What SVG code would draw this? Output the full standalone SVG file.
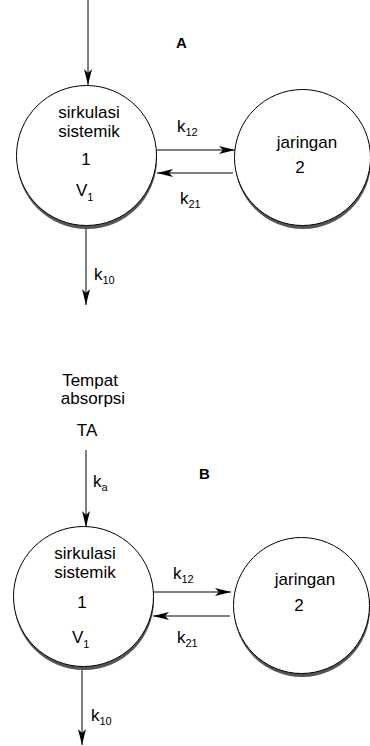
<svg xmlns="http://www.w3.org/2000/svg" width="370" height="746" viewBox="0 0 370 746">
<defs>
<marker id="ah" markerUnits="userSpaceOnUse" markerWidth="18" markerHeight="10" refX="16" refY="4" orient="auto">
<path d="M0,0 L16,4 L0,8 L4,4 z" fill="#000"/>
</marker>
</defs>
<style>
.t{font-family:"Liberation Sans",Arial,sans-serif;font-size:17px;fill:#000;text-anchor:middle}
.l{font-family:"Liberation Sans",Arial,sans-serif;font-size:17px;fill:#000}
.s{font-size:11px}
.b{font-family:"Liberation Sans",Arial,sans-serif;font-size:15px;font-weight:bold;fill:#000}
.sh{fill:#555}
.c{fill:#fff;stroke:#000;stroke-width:1}
.ln{stroke:#000;stroke-width:1;fill:none;marker-end:url(#ah)}
</style>
<rect width="370" height="746" fill="#fff"/>
<g id="connectors">
<line class="ln" x1="88" y1="0" x2="88" y2="85"/>
<line class="ln" x1="157" y1="150" x2="235" y2="150"/>
<line class="ln" x1="233" y1="173" x2="157" y2="173"/>
<line class="ln" x1="86" y1="228" x2="86" y2="305"/>
<line class="ln" x1="86" y1="450" x2="86" y2="527"/>
<line class="ln" x1="154" y1="592" x2="231" y2="592"/>
<line class="ln" x1="230" y1="616" x2="153" y2="616"/>
<line class="ln" x1="82" y1="670" x2="82" y2="745"/>
</g>
<g id="labelA"><text class="b" x="176" y="48">A</text></g>
<g id="labelB"><text class="b" x="199" y="479">B</text></g>
<g id="nodeA1">
<circle class="sh" cx="87" cy="159" r="70"/>
<circle class="c" cx="86.5" cy="155.5" r="70"/>
<text class="t" x="89" y="118">sirkulasi</text>
<text class="t" x="89" y="137">sistemik</text>
<text class="t" x="86" y="165">1</text>
<text class="l" x="76" y="196">V<tspan class="s" dy="5">1</tspan></text>
</g>
<g id="nodeA2">
<circle class="sh" cx="303" cy="161" r="68"/>
<circle class="c" cx="302.5" cy="157.5" r="68"/>
<text class="t" x="307" y="148">jaringan</text>
<text class="t" x="300" y="173">2</text>
</g>
<g id="ratesA">
<text class="l" x="177" y="132">k<tspan class="s" dy="4">12</tspan></text>
<text class="l" x="180" y="204">k<tspan class="s" dy="4">21</tspan></text>
<text class="l" x="94" y="280">k<tspan class="s" dy="4">10</tspan></text>
</g>
<g id="nodeTA">
<text class="t" x="90" y="386">Tempat</text>
<text class="t" x="93" y="404">absorpsi</text>
<text class="t" x="87" y="436">TA</text>
</g>
<g id="nodeB1">
<circle class="sh" cx="84" cy="600" r="70"/>
<circle class="c" cx="83.5" cy="596.5" r="70"/>
<text class="t" x="85" y="559">sirkulasi</text>
<text class="t" x="85" y="578">sistemik</text>
<text class="t" x="82" y="608">1</text>
<text class="l" x="72" y="643">V<tspan class="s" dy="5">1</tspan></text>
</g>
<g id="nodeB2">
<circle class="sh" cx="302" cy="609" r="68"/>
<circle class="c" cx="301.5" cy="605.5" r="68"/>
<text class="t" x="305" y="585">jaringan</text>
<text class="t" x="299" y="611">2</text>
</g>
<g id="ratesB">
<text class="l" x="93" y="487">k<tspan class="s" dy="4">a</tspan></text>
<text class="l" x="173" y="579">k<tspan class="s" dy="4">12</tspan></text>
<text class="l" x="177" y="643">k<tspan class="s" dy="4">21</tspan></text>
<text class="l" x="91" y="721">k<tspan class="s" dy="4">10</tspan></text>
</g>
</svg>
